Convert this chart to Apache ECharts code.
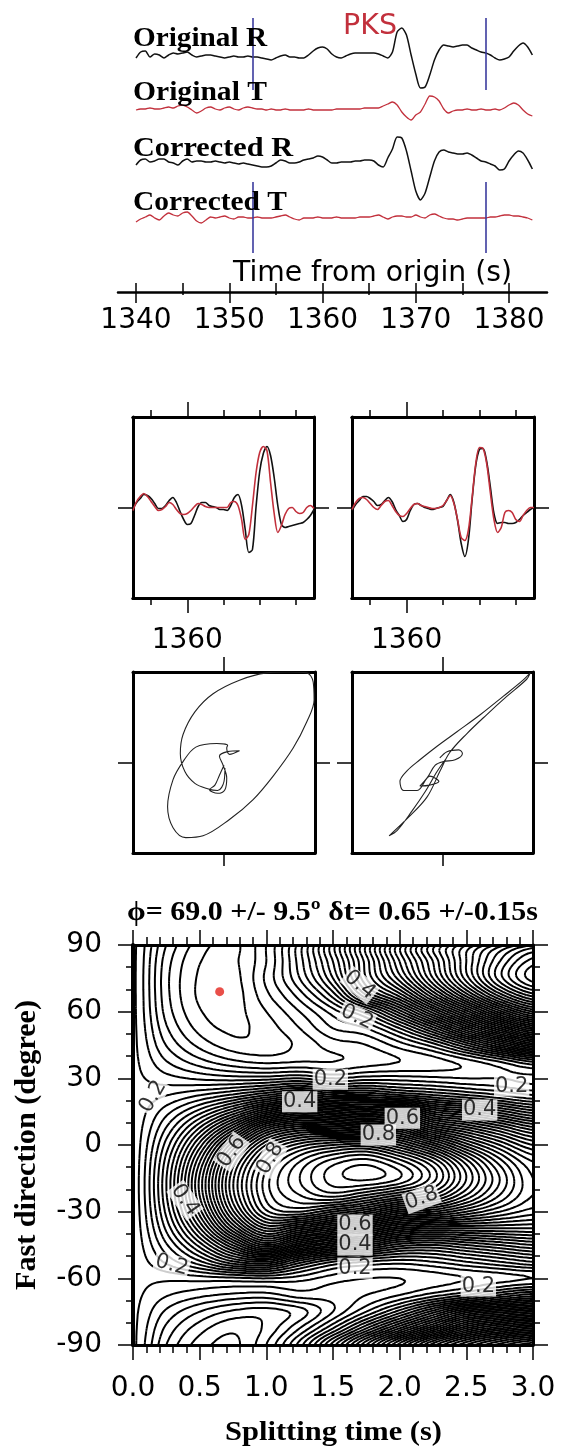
<!DOCTYPE html>
<html><head><meta charset="utf-8">
<script src="https://cdn.jsdelivr.net/npm/echarts@6/dist/echarts.min.js"></script>
<style>html,body{margin:0;padding:0;background:#fff}#c{width:561px;height:1452px}</style>
</head><body><div id="c"></div><script>
// ---------------- DATA ----------------
const TRACE_START = 1340, TRACE_DELTA = 0.5;
const origR = [-1,5,6,0,3,2,-1,2,4,3, 4,5,2,0,1,2,2,1,0,-1, 0,1,0,0,1,0,0,-1,-2,-3, -1,1,2,0,0,-1,-1,2,6,9,
  10,8,3,0,-1,1,3,4,4,4, 4,4,3,1,-1,5,25,29,22,2, -17,-31,-30,-18,-3,7,12,11,10,11, 12,12,9,7,5,4,2,-1,-3,-2, 0,6,11,14,10,2];
const origT = [0,1,1,2,1,1,2,3,2,4, 5,3,0,-3,-1,2,3,1,0,2, 3,1,0,2,3,2,1,1,0,1, 0,0,1,0,0,0,0,1,0,0,
  0,0,0,1,1,1,1,1,1,2, 2,2,2,4,6,8,5,-2,-7,-10, -5,-2,6,14,13,9,1,-3,-1,0, 0,1,0,0,1,0,0,1,0,2, 5,7,5,0,-4,-6];
const corrR = [-2,3,4,1,2,4,4,1,0,-2, 2,4,1,2,2,1,1,2,1,0, 1,0,-1,0,-1,-2,-3,-4,-4,-3, 0,3,2,0,0,1,3,4,5,7,
  6,3,0,0,1,1,1,2,2,3, 3,2,-2,-4,5,14,26,25,12,-8, -28,-37,-30,-14,2,11,13,11,10,9, 9,10,8,5,2,1,-1,-3,-7,-6, 2,8,12,10,3,-6];
const corrT = [-4,-1,1,3,0,-2,2,5,3,2, 5,6,2,-3,-5,-2,1,0,1,2, 0,-1,1,1,0,0,1,0,0,0, 1,2,3,1,-1,-2,0,0,0,1,
  0,0,0,1,0,0,0,0,1,1, 1,2,3,1,-1,1,2,2,1,1, 3,1,0,3,4,2,0,-1,-1,-2, -1,0,0,0,0,0,1,1,2,3, 3,2,2,1,0,-2];
const WINDOW = [1352.5, 1377.5];
const TIME_MAJOR = [1340, 1350, 1360, 1370, 1380];
const TIME_MINOR = [1345, 1355, 1365, 1375];
const TIME_ALL = [1340, 1345, 1350, 1355, 1360, 1365, 1370, 1375, 1380];

const PANEL_START = 1352.5, PANEL_DELTA = 0.5;
const waveA_black = [-1,5,9,13,12,9,4,-1,-1,2, 7,10,5,-4,-12,-17,-16,-8,1,5, 5,2,1,0,-2,-2,-3,2,10,13,
  2,-22,-45,-42,1,36,54,61,52,30, 2,-17,-20,-19,-18,-17,-16,-15,-12,-8, -2];
const waveA_red = [-3,6,11,14,11,6,1,-3,-2,1, 5,3,-2,-6,-7,-6,-3,1,4,3, 1,0,0,0,0,0,0,5,6,2,
  -12,-32,-27,2,35,55,61,57,25,-6, -25,-18,-7,-1,0,-4,-6,-5,0,2, -1];
const waveB_black = [-3,3,7,11,11,9,6,2,3,7, 10,6,-2,-8,-14,-12,-3,3,4,2, 0,-1,-2,-1,0,1,7,13,5,-13,
  -36,-49,-32,8,42,58,59,46,21,-6, -16,-15,-15,-16,-16,-15,-12,-8,-5,-2, 0];
const waveB_red = [-2,5,9,10,8,4,0,-2,2,6, 7,2,-4,-8,-9,-6,-1,3,4,2, 1,0,-1,-1,0,2,7,12,4,-12,
  -30,-33,-22,10,44,60,59,44,15,-12, -25,-20,-5,-3,-5,-12,-14,-8,-3,0, 0];
const PANEL_MAJOR = [1360];
const PANEL_MINOR = [1355, 1365, 1370, 1375];

const pmBefore = [[0.00,-0.03],[-0.05,-0.14],[-0.10,-0.25],[-0.16,-0.30],[-0.07,-0.34],[0.01,-0.30],[0.03,-0.17],
  [-0.01,-0.03],[-0.05,0.07],[0.04,0.12],[0.17,0.13],[0.06,0.09],[0.03,0.16],[0.04,0.19],[-0.08,0.21],[-0.31,0.17],
  [-0.45,0.01],[-0.56,-0.19],[-0.62,-0.49],[-0.56,-0.72],[-0.42,-0.83],[-0.23,-0.81],[0.06,-0.63],[0.32,-0.41],
  [0.54,-0.15],[0.76,0.16],[0.91,0.45],[0.99,0.69],[0.98,0.89],[0.91,0.99],[0.69,1.00],[0.47,0.99],[0.17,0.91],
  [-0.12,0.76],[-0.32,0.56],[-0.45,0.31],[-0.48,0.10],[-0.43,-0.10],[-0.32,-0.23],[-0.18,-0.29],[-0.07,-0.31],
  [0.00,-0.21],[0.01,-0.06]];
const pmAfter = [[-0.03,0.05],[0.05,0.12],[0.18,0.14],[0.22,0.10],[0.14,0.03],[0.01,0.01],[-0.08,-0.03],[-0.17,-0.17],
  [-0.25,-0.26],[-0.14,-0.25],[-0.04,-0.21],[-0.14,-0.15],[-0.28,-0.31],[-0.43,-0.31],[-0.47,-0.21],[-0.39,-0.09],
  [-0.25,0.03],[-0.06,0.18],[0.16,0.34],[0.42,0.53],[0.67,0.73],[0.89,0.91],[0.97,0.99],[0.93,0.92],[0.71,0.73],
  [0.49,0.53],[0.27,0.32],[0.08,0.11],[-0.03,-0.10],[-0.17,-0.38],[-0.38,-0.61],[-0.59,-0.81],[-0.50,-0.75],
  [-0.34,-0.54],[-0.19,-0.32],[-0.06,-0.10],[0.03,0.03]];
const PM_TICK = [0];

const DT_NODES = [0,0.25,0.5,0.75,1.0,1.25,1.5,1.75,2.0,2.25,2.5,2.75,3.0];
const PHI_NODES = [90,82.5,75,67.5,60,52.5,45,37.5,30,22.5,15,7.5,0,-7.5,-15,-22.5,-30,-37.5,-45,-52.5,-60,-67.5,-75,-82.5,-90];
const ENERGY = [
 [0.205,0.120,0.070,0.055,0.100,0.190,0.310,0.440,0.570,0.690,0.780,0.850,0.900],
 [0.205,0.110,0.061,0.056,0.100,0.190,0.300,0.430,0.560,0.680,0.800,0.900,0.970],
 [0.205,0.106,0.057,0.052,0.105,0.180,0.280,0.420,0.530,0.660,0.790,0.910,0.990],
 [0.205,0.107,0.056,0.050,0.095,0.150,0.230,0.360,0.450,0.580,0.710,0.830,0.910],
 [0.205,0.112,0.062,0.053,0.080,0.120,0.170,0.230,0.330,0.450,0.570,0.690,0.780],
 [0.205,0.123,0.073,0.056,0.070,0.100,0.140,0.160,0.220,0.310,0.420,0.520,0.610],
 [0.205,0.139,0.094,0.069,0.067,0.085,0.110,0.120,0.150,0.190,0.260,0.340,0.420],
 [0.205,0.161,0.128,0.105,0.095,0.100,0.100,0.110,0.120,0.130,0.150,0.180,0.220],
 [0.205,0.188,0.176,0.170,0.171,0.180,0.160,0.170,0.170,0.165,0.160,0.160,0.155],
 [0.205,0.219,0.239,0.264,0.298,0.330,0.300,0.300,0.280,0.260,0.240,0.220,0.200],
 [0.205,0.252,0.310,0.381,0.467,0.520,0.500,0.480,0.500,0.420,0.390,0.350,0.310],
 [0.205,0.282,0.383,0.507,0.644,0.700,0.700,0.680,0.670,0.580,0.530,0.480,0.430],
 [0.205,0.309,0.449,0.618,0.761,0.830,0.860,0.870,0.820,0.740,0.650,0.580,0.520],
 [0.205,0.329,0.498,0.686,0.824,0.900,0.950,0.970,0.930,0.860,0.750,0.650,0.580],
 [0.205,0.339,0.524,0.716,0.850,0.920,0.970,0.985,0.960,0.890,0.780,0.680,0.600],
 [0.205,0.338,0.521,0.713,0.847,0.900,0.930,0.900,0.860,0.820,0.740,0.660,0.600],
 [0.205,0.326,0.490,0.676,0.815,0.840,0.800,0.760,0.700,0.680,0.640,0.600,0.570],
 [0.205,0.305,0.437,0.599,0.720,0.680,0.630,0.580,0.520,0.500,0.500,0.500,0.500],
 [0.205,0.277,0.369,0.482,0.580,0.500,0.440,0.400,0.350,0.340,0.360,0.380,0.400],
 [0.205,0.245,0.296,0.357,0.380,0.310,0.260,0.240,0.230,0.240,0.260,0.280,0.300],
 [0.205,0.205,0.210,0.215,0.220,0.210,0.190,0.180,0.180,0.190,0.200,0.210,0.220],
 [0.205,0.182,0.166,0.155,0.152,0.170,0.170,0.180,0.200,0.230,0.260,0.300,0.330],
 [0.205,0.156,0.120,0.096,0.090,0.110,0.160,0.220,0.290,0.370,0.450,0.490,0.520],
 [0.205,0.135,0.089,0.065,0.085,0.140,0.220,0.320,0.420,0.520,0.620,0.680,0.720],
 [0.205,0.120,0.070,0.055,0.100,0.190,0.310,0.440,0.570,0.690,0.780,0.850,0.900]
];
const CONTOUR_STEP = 0.02;
const BEST = [[0.65, 69.0]];
const CONTOUR_LABELS = [[1.70,72,'0.4'],[1.68,57.5,'0.2'],[1.48,29.6,'0.2'],[1.25,19.5,'0.4'],[2.02,12,'0.6'],
  [1.84,4.5,'0.8'],[2.84,26.5,'0.2'],[2.60,15.8,'0.4'],[0.15,21.8,'0.2'],[0.74,-3,'0.6'],[1.03,-6,'0.8'],
  [0.39,-24.8,'0.4'],[2.165,-24,'0.8'],[1.665,-36,'0.6'],[1.665,-45,'0.4'],[1.665,-55.5,'0.2'],[0.29,-54,'0.2'],[2.59,-63.5,'0.2']];
const LABEL_ROT = [-40,-25,0,0,0,0,0,0,60,55,60,-55,20,0,0,0,-15,0];
const DT_TICKS_INTERVAL = 0.5, PHI_TICKS_INTERVAL = 30;

// ---------------- helpers ----------------
const toSeries = (start, delta, arr) => arr.map((v, i) => [start + i * delta, v]);

function cr(p0,p1,p2,p3,t){return 0.5*(2*p1+(-p0+p2)*t+(2*p0-5*p1+4*p2-p3)*t*t+(-p0+3*p1-3*p2+p3)*t*t*t);}
const NR = PHI_NODES.length - 1, NC = DT_NODES.length;
const dtStep = DT_NODES[1]-DT_NODES[0], phiStep = PHI_NODES[0]-PHI_NODES[1];
function Eg(r,c){ r=((r%NR)+NR)%NR; c=Math.max(0,Math.min(NC-1,c)); return ENERGY[r][c]; }
function sampleE(fr, fc){
  let r0=Math.floor(fr), c0=Math.floor(fc); if(c0>=NC-1)c0=NC-2;
  const tr=fr-r0, tc=fc-c0, v=[];
  for(let k=-1;k<=2;k++) v.push(cr(Eg(r0+k,c0-1),Eg(r0+k,c0),Eg(r0+k,c0+1),Eg(r0+k,c0+2),tc));
  return cr(v[0],v[1],v[2],v[3],tr);
}
const XS=[], YS=[];
for(let i=0;i<=120;i++) XS.push(DT_NODES[0]+i*(DT_NODES[NC-1]-DT_NODES[0])/120);
for(let j=0;j<=144;j++) YS.push(PHI_NODES[0]-j*(PHI_NODES[0]-PHI_NODES[NR])/144);
const Z = YS.map(p => XS.map(d => sampleE((PHI_NODES[0]-p)/phiStep, (d-DT_NODES[0])/dtStep)));
function contourSegs(level){
  const segs=[];
  for(let j=0;j<YS.length-1;j++) for(let i=0;i<XS.length-1;i++){
    const a=Z[j][i], b=Z[j][i+1], c=Z[j+1][i+1], d=Z[j+1][i];
    const idx=(a>=level?8:0)|(b>=level?4:0)|(c>=level?2:0)|(d>=level?1:0);
    if(idx===0||idx===15) continue;
    const x0=XS[i],x1=XS[i+1],y0=YS[j],y1=YS[j+1];
    const T=()=>[x0+(x1-x0)*(level-a)/(b-a),y0], R=()=>[x1,y0+(y1-y0)*(level-b)/(c-b)];
    const B=()=>[x0+(x1-x0)*(level-d)/(c-d),y1], L=()=>[x0,y0+(y1-y0)*(level-a)/(d-a)];
    const m=(a+b+c+d)/4;
    switch(idx){
      case 1: case 14: segs.push([L(),B()]); break;
      case 2: case 13: segs.push([B(),R()]); break;
      case 3: case 12: segs.push([L(),R()]); break;
      case 4: case 11: segs.push([T(),R()]); break;
      case 6: case 9: segs.push([T(),B()]); break;
      case 7: case 8: segs.push([L(),T()]); break;
      case 5: if(m>=level){segs.push([L(),T()]);segs.push([B(),R()]);}else{segs.push([L(),B()]);segs.push([T(),R()]);} break;
      case 10: if(m>=level){segs.push([L(),B()]);segs.push([T(),R()]);}else{segs.push([L(),T()]);segs.push([B(),R()]);} break;
    }
  }
  return segs;
}
const LEVELS=[]; for(let k=1;k*CONTOUR_STEP<1.0;k++) LEVELS.push(+(k*CONTOUR_STEP).toFixed(2));
const SEGS = LEVELS.map(contourSegs);

const mctx=document.createElement('canvas').getContext('2d');
const SERIF_FAM = 'Liberation Serif';
const SANS_FAM = 'DejaVu Sans';
function fit(text,weight,size,family,width){ mctx.font=weight+' '+size+'px "'+family+'"'; return width/mctx.measureText(text).width; }
function txt(text,x,y,width,weight,size,family,color,align,rot){
  return {type:'text',x:x,y:y,rotation:rot||0,scaleX:fit(text,weight,size,family,width),silent:true,z:10,
    style:{text:text,fontFamily:family,fontSize:size,fontWeight:weight,fill:color||'#000',
      textAlign:align||'left',align:align||'left',textVerticalAlign:'middle',verticalAlign:'middle'}};
}

const BLACK='#000';
const plain = v => String(v);
function hid(grid,min,max){return {gridIndex:grid,type:'value',min:min,max:max,show:false};}
function frame(grid,min,max,pos,ticks,len,labelVals,labelOpt,lineW){
  return {gridIndex:grid,type:'value',min:min,max:max,position:pos,
    axisLine:{show:lineW!==0,onZero:false,lineStyle:{color:BLACK,width:lineW===undefined?3:lineW}},
    axisTick:{show:ticks.length>0,inside:false,length:len,customValues:ticks,lineStyle:{color:BLACK,width:1.5}},
    axisLabel:labelVals?Object.assign({show:true,customValues:labelVals,color:BLACK,fontFamily:SANS_FAM,formatter:plain},labelOpt):{show:false},
    splitLine:{show:false},minorTick:{show:false},minorSplitLine:{show:false}};
}
const AX_MIN=1338.07, AX_MAX=1384.07;
const PMIN=PANEL_START, PMAX=PANEL_START+(waveA_black.length-1)*PANEL_DELTA;

const grids=[
  {left:118,top:7,width:429,height:100},
  {left:118,top:60,width:429,height:100},
  {left:118,top:113,width:429,height:100},
  {left:118,top:168,width:429,height:100},
  {left:118,top:262,width:429,height:30},
  {left:133,top:417,width:181,height:181},
  {left:352,top:417,width:182,height:181},
  {left:133,top:672,width:182,height:181},
  {left:352,top:672,width:181,height:181},
  {left:133,top:945,width:400,height:400}
];

const xAxes=[
  hid(0,AX_MIN,AX_MAX),hid(1,AX_MIN,AX_MAX),hid(2,AX_MIN,AX_MAX),hid(3,AX_MIN,AX_MAX),
  frame(4,AX_MIN,AX_MAX,'bottom',TIME_MAJOR,11,TIME_MAJOR,{fontSize:28,margin:15},2.5),
  Object.assign(frame(4,AX_MIN,AX_MAX,'bottom',TIME_ALL,9,null,null,0),{axisTick:{show:true,inside:true,length:9,customValues:TIME_ALL,lineStyle:{color:BLACK,width:1.5}}}),
  frame(4,AX_MIN,AX_MAX,'bottom',TIME_MINOR,3,null,null,0),
  frame(5,PMIN,PMAX,'bottom',PANEL_MAJOR,15,PANEL_MAJOR,{fontSize:28,margin:29}),
  frame(5,PMIN,PMAX,'bottom',PANEL_MINOR,7,null,null),
  frame(5,PMIN,PMAX,'top',PANEL_MAJOR,15,null,null),
  frame(5,PMIN,PMAX,'top',PANEL_MINOR,7,null,null),
  frame(6,PMIN,PMAX,'bottom',PANEL_MAJOR,15,PANEL_MAJOR,{fontSize:28,margin:29}),
  frame(6,PMIN,PMAX,'bottom',PANEL_MINOR,7,null,null),
  frame(6,PMIN,PMAX,'top',PANEL_MAJOR,15,null,null),
  frame(6,PMIN,PMAX,'top',PANEL_MINOR,7,null,null),
  frame(7,-1,1,'bottom',PM_TICK,13,null,null),
  frame(7,-1,1,'top',PM_TICK,15,null,null),
  frame(8,-1,1,'bottom',PM_TICK,13,null,null),
  frame(8,-1,1,'top',PM_TICK,15,null,null),
  {gridIndex:9,type:'value',min:0,max:3,interval:DT_TICKS_INTERVAL,position:'bottom',
   axisLine:{onZero:false,lineStyle:{color:BLACK,width:3}},axisTick:{length:15,lineStyle:{color:BLACK,width:1.5}},
   minorTick:{show:true,splitNumber:5,length:8,lineStyle:{color:BLACK,width:1.5}},
   axisLabel:{color:BLACK,fontFamily:SANS_FAM,fontSize:28,margin:30,formatter:v=>v.toFixed(1)},splitLine:{show:false}},
  {gridIndex:9,type:'value',min:0,max:3,interval:DT_TICKS_INTERVAL,position:'top',
   axisLine:{onZero:false,lineStyle:{color:BLACK,width:3}},axisTick:{length:15,lineStyle:{color:BLACK,width:1.5}},
   minorTick:{show:true,splitNumber:5,length:8,lineStyle:{color:BLACK,width:1.5}},axisLabel:{show:false},splitLine:{show:false}}
];
const yAxes=[
  hid(0,-50,50),hid(1,-50,50),hid(2,-50,50),hid(3,-50,50),hid(4,0,1),
  frame(5,-90.5,90.5,'left',[0],15,null,null),frame(5,-90.5,90.5,'right',[0],15,null,null),
  frame(6,-90.5,90.5,'left',[0],15,null,null),frame(6,-90.5,90.5,'right',[0],15,null,null),
  frame(7,-1,1,'left',PM_TICK,15,null,null),frame(7,-1,1,'right',PM_TICK,15,null,null),
  frame(8,-1,1,'left',PM_TICK,15,null,null),frame(8,-1,1,'right',PM_TICK,15,null,null),
  {gridIndex:9,type:'value',min:-90,max:90,interval:PHI_TICKS_INTERVAL,position:'left',
   axisLine:{onZero:false,lineStyle:{color:BLACK,width:4}},axisTick:{length:15,lineStyle:{color:BLACK,width:1.5}},
   minorTick:{show:true,splitNumber:3,length:7,lineStyle:{color:BLACK,width:1.5}},
   axisLabel:{color:BLACK,fontFamily:SANS_FAM,fontSize:28,margin:31,formatter:plain},splitLine:{show:false}},
  {gridIndex:9,type:'value',min:-90,max:90,interval:PHI_TICKS_INTERVAL,position:'right',
   axisLine:{onZero:false,lineStyle:{color:BLACK,width:3}},axisTick:{length:15,lineStyle:{color:BLACK,width:1.5}},
   minorTick:{show:true,splitNumber:3,length:7,lineStyle:{color:BLACK,width:1.5}},axisLabel:{show:false},splitLine:{show:false}}
];

const RED='#c2303c', BLUE='#3b3b9e';
function line(xi,yi,data,color,w,smooth,extra){
  return Object.assign({type:'line',xAxisIndex:xi,yAxisIndex:yi,data:data,showSymbol:false,symbol:'none',
    smooth:smooth,clip:false,silent:true,lineStyle:{color:color,width:w}},extra||{});
}
function winMark(top,bottom){
  return {markLine:{silent:true,symbol:['none','none'],label:{show:false},lineStyle:{color:BLUE,width:1.6,type:'solid'},
    data:WINDOW.map(t=>[{coord:[t,top]},{coord:[t,bottom]}])}};
}

const series=[
  line(0,0,toSeries(TRACE_START,TRACE_DELTA,origR),'#111',1.5,0.25,winMark(39,-33)),
  line(1,1,toSeries(TRACE_START,TRACE_DELTA,origT),RED,1.3,0.25),
  line(2,2,toSeries(TRACE_START,TRACE_DELTA,corrR),'#111',1.5,0.25),
  line(3,3,toSeries(TRACE_START,TRACE_DELTA,corrT),RED,1.3,0.25,winMark(36,-35)),
  line(7,5,toSeries(PANEL_START,PANEL_DELTA,waveA_black),'#111',1.6,0.3),
  line(7,5,toSeries(PANEL_START,PANEL_DELTA,waveA_red),RED,1.6,0.3),
  line(11,7,toSeries(PANEL_START,PANEL_DELTA,waveB_black),'#111',1.6,0.3),
  line(11,7,toSeries(PANEL_START,PANEL_DELTA,waveB_red),RED,1.6,0.3),
  Object.assign(line(15,9,pmBefore,'#222',1.1,0.35),{clip:true}),
  Object.assign(line(17,11,pmAfter,'#222',1.1,0.35),{clip:true}),
  {type:'custom',xAxisIndex:19,yAxisIndex:13,coordinateSystem:'cartesian2d',clip:true,silent:true,z:2,
   data:LEVELS.map(l=>[0,0,l]),encode:{x:0,y:1},
   renderItem:function(params,api){
     const segs=SEGS[params.dataIndex]; const parts=[];
     for(const s of segs){const p=api.coord(s[0]),q=api.coord(s[1]);
       parts.push('M'+p[0].toFixed(1)+' '+p[1].toFixed(1)+'L'+q[0].toFixed(1)+' '+q[1].toFixed(1));}
     return {type:'path',shape:{pathData:parts.join('')},style:{stroke:'#000',fill:'none',lineWidth:2.0}};
   }},
  {type:'scatter',xAxisIndex:19,yAxisIndex:13,symbolSize:1,itemStyle:{color:'rgba(0,0,0,0)'},z:5,silent:true,
   label:{show:true,position:'inside',color:'#000',fontFamily:SANS_FAM,fontSize:21,backgroundColor:'#fff',padding:[0,1]},
   data:CONTOUR_LABELS.map((l,i)=>({value:[l[0],l[1]],label:{formatter:l[2],rotate:LABEL_ROT[i]}}))},
  {type:'scatter',xAxisIndex:19,yAxisIndex:13,symbolSize:9,itemStyle:{color:'#e3231b'},z:6,silent:true,data:BEST}
];

const graphic=[
  txt('Original R',133,39,134,'bold',27,SERIF_FAM),
  txt('Original T',133,93.5,134,'bold',27,SERIF_FAM),
  txt('Corrected R',133,149.5,160,'bold',27,SERIF_FAM),
  txt('Corrected T',133,203,154,'bold',27,SERIF_FAM),
  txt('PKS',343,27,54,'normal',28,SANS_FAM,RED),
  txt('Time from origin (s)',233,274,279,'normal',28,SANS_FAM),
  txt('\u03D5= 69.0 +/- 9.5\u00BA \u03B4t= 0.65 +/-0.15s',127,913,411,'bold',28,SERIF_FAM),
  txt('Splitting time (s)',225,1433,217,'bold',28,SERIF_FAM),
  txt('Fast direction (degree)',28,1145,290,'bold',29,SERIF_FAM,'#000','center',Math.PI/2)
];

const chart=echarts.init(document.getElementById('c'),null,{renderer:'canvas'});
chart.setOption({animation:false,backgroundColor:'#fff',grid:grids,xAxis:xAxes,yAxis:yAxes,series:series,graphic:graphic});
</script></body></html>
